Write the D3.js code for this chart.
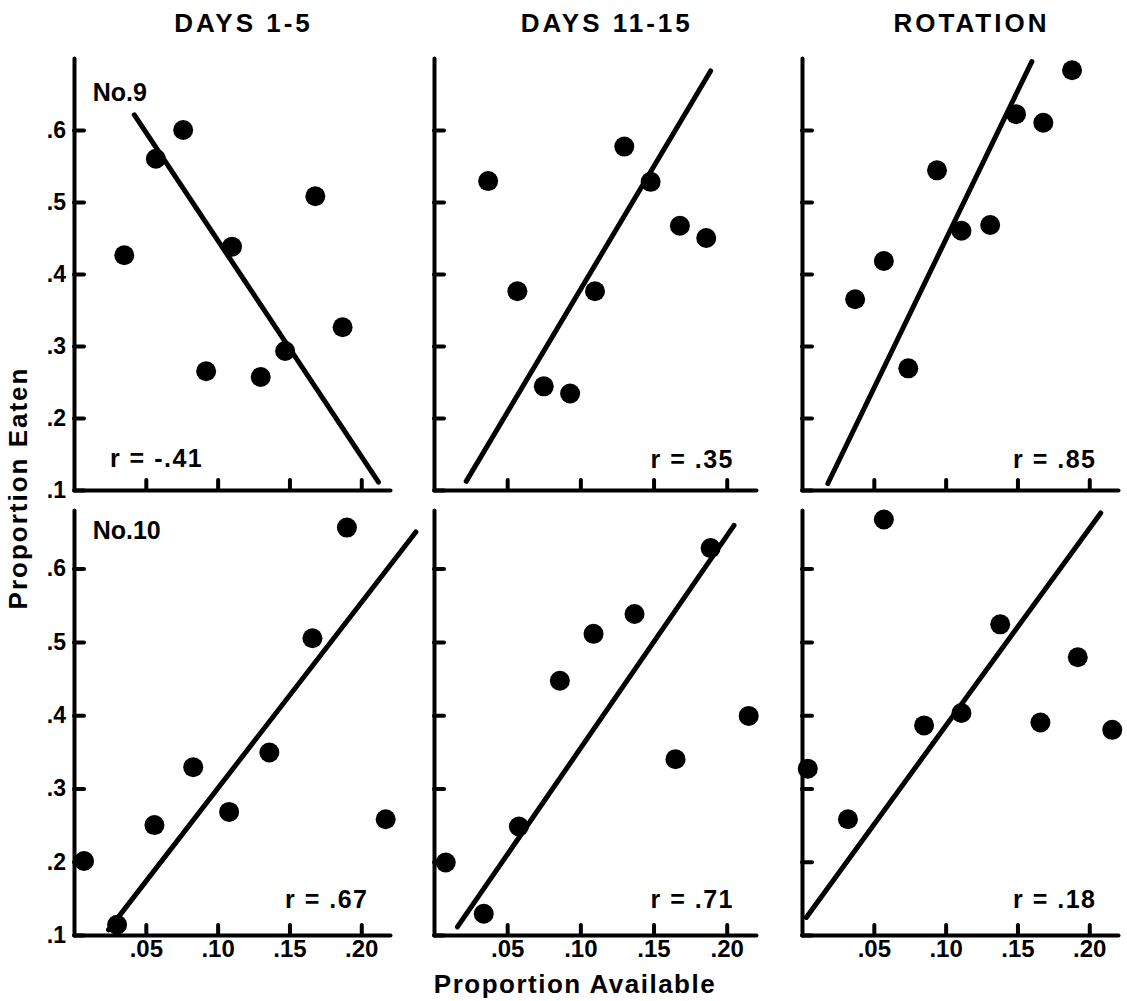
<!DOCTYPE html>
<html>
<head>
<meta charset="utf-8">
<script src="https://cdn.jsdelivr.net/npm/d3@7"></script>
<style>
  body { margin: 0; background: #fff; }
  svg text { font-family: "Liberation Sans", Arial, sans-serif; font-weight: bold; fill: #000; }
</style>
</head>
<body>
<div id="container"></div>
<script>
const columnTitles = ["DAYS 1-5", "DAYS 11-15", "ROTATION"];
const animalLabels = ["No.9", "No.10"];
const xTicks = [0.05, 0.10, 0.15, 0.20];
const xTickLabels = [".05", ".10", ".15", ".20"];
const yTicks = [0.1, 0.2, 0.3, 0.4, 0.5, 0.6];
const yTickLabels = [".1", ".2", ".3", ".4", ".5", ".6"];
const rLabels = [
    ["r = -.41", "r = .35", "r = .85"],
    ["r = .67", "r = .71", "r = .18"]
];

// [proportion available, proportion eaten]
const no9Days1to5 = [[0.035, 0.426], [0.057, 0.560], [0.076, 0.600], [0.092, 0.265], [0.110, 0.438], [0.130, 0.257], [0.147, 0.293], [0.168, 0.508], [0.187, 0.326]];
const no9Days11to15 = [[0.037, 0.529], [0.057, 0.376], [0.075, 0.244], [0.093, 0.234], [0.110, 0.376], [0.130, 0.577], [0.148, 0.528], [0.168, 0.467], [0.186, 0.450]];
const no9Rotation = [[0.037, 0.365], [0.057, 0.418], [0.074, 0.269], [0.094, 0.544], [0.111, 0.460], [0.131, 0.468], [0.149, 0.622], [0.168, 0.610], [0.188, 0.683]];
const no10Days1to5 = [[0.007, 0.201], [0.030, 0.114], [0.056, 0.250], [0.083, 0.329], [0.108, 0.268], [0.136, 0.349], [0.166, 0.505], [0.190, 0.656], [0.217, 0.258]];
const no10Days11to15 = [[0.008, 0.199], [0.034, 0.129], [0.058, 0.248], [0.086, 0.447], [0.109, 0.511], [0.137, 0.538], [0.165, 0.340], [0.189, 0.628], [0.215, 0.399]];
const no10Rotation = [[0.004, 0.327], [0.032, 0.258], [0.057, 0.667], [0.085, 0.386], [0.111, 0.403], [0.138, 0.524], [0.166, 0.390], [0.192, 0.479], [0.216, 0.380]];

// fitted lines, end points
const no9Fits = [[[0.042, 0.621], [0.212, 0.111]], [[0.022, 0.112], [0.189, 0.682]], [[0.018, 0.109], [0.160, 0.695]]];
const no10Fits = [[[0.024, 0.107], [0.238, 0.650]], [[0.016, 0.111], [0.205, 0.659]], [[0.003, 0.124], [0.208, 0.676]]];

const points = [[no9Days1to5, no9Days11to15, no9Rotation], [no10Days1to5, no10Days11to15, no10Rotation]];
const fits = [no9Fits, no10Fits];

const width = 1127, height = 1001;
const colRanges = [[74, 390], [434, 756], [802, 1118]];
const rowRanges = [[490, 58], [935, 510]];
const rowDomains = [[0.1, 0.7], [0.1, 0.68]];

const svg = d3.select("#container").append("svg")
    .attr("width", width)
    .attr("height", height);

for (let r = 0; r < 2; r++) {
    for (let c = 0; c < 3; c++) {
        const x = d3.scaleLinear().domain([0, 0.22]).range(colRanges[c]);
        const y = d3.scaleLinear().domain(rowDomains[r]).range(rowRanges[r]);
        const g = svg.append("g");

        const xAxis = d3.axisBottom(x)
            .tickValues(xTicks)
            .tickSize(-10)
            .tickSizeOuter(0)
            .tickPadding(5)
            .tickFormat((d, i) => r == 1 ? xTickLabels[i] : "");
        const gx = g.append("g")
            .attr("transform", `translate(0, ${y.range()[0]})`)
            .call(xAxis);
        gx.selectAll("text").attr("font-size", "24px");

        const yAxis = d3.axisLeft(y)
            .tickValues(yTicks)
            .tickSize(-10)
            .tickSizeOuter(0)
            .tickPadding(8)
            .tickFormat((d, i) => c == 0 ? yTickLabels[i] : "");
        const gy = g.append("g")
            .attr("transform", `translate(${x.range()[0]}, 0)`)
            .call(yAxis);
        gy.selectAll("text").attr("font-size", "23px");

        g.selectAll(".domain, .tick line")
            .attr("stroke", "#000")
            .attr("stroke-width", 4)
            .attr("stroke-linecap", "round");

        g.append("path")
            .datum(fits[r][c])
            .attr("fill", "none")
            .attr("stroke", "#000")
            .attr("stroke-width", 5)
            .attr("stroke-linecap", "round")
            .attr("d", d3.line()
                .x(d => x(d[0]))
                .y(d => y(d[1])));

        g.append("g")
            .selectAll("circle")
            .data(points[r][c])
            .enter()
            .append("circle")
            .attr("cx", d => x(d[0]))
            .attr("cy", d => y(d[1]))
            .attr("r", 10)
            .style("fill", "#000");

        const rText = g.append("text")
            .attr("font-size", "25px")
            .attr("letter-spacing", "1.5px")
            .text(rLabels[r][c]);
        if (r == 0 && c == 0) {
            rText.attr("x", x(0.025)).attr("y", y(0.132));
        } else {
            rText.attr("text-anchor", "end").attr("x", x(0.205)).attr("y", y(r == 0 ? 0.131 : 0.137));
        }

        if (c == 0) {
            g.append("text")
                .attr("x", x(0.013))
                .attr("y", y(0.64))
                .attr("font-size", "25px")
                .text(animalLabels[r]);
        }

        if (r == 0) {
            g.append("text")
                .attr("x", x(0.118))
                .attr("y", 32)
                .attr("text-anchor", "middle")
                .attr("font-size", "26px")
                .attr("letter-spacing", "3px")
                .text(columnTitles[c]);
        }
    }
}

svg.append("text")
    .attr("text-anchor", "middle")
    .attr("transform", "translate(27, 488) rotate(-90)")
    .attr("font-size", "26px")
    .attr("letter-spacing", "2px")
    .text("Proportion Eaten");

svg.append("text")
    .attr("text-anchor", "middle")
    .attr("x", 575)
    .attr("y", 993)
    .attr("font-size", "26px")
    .attr("letter-spacing", "1.5px")
    .text("Proportion Available");
</script>
</body>
</html>
